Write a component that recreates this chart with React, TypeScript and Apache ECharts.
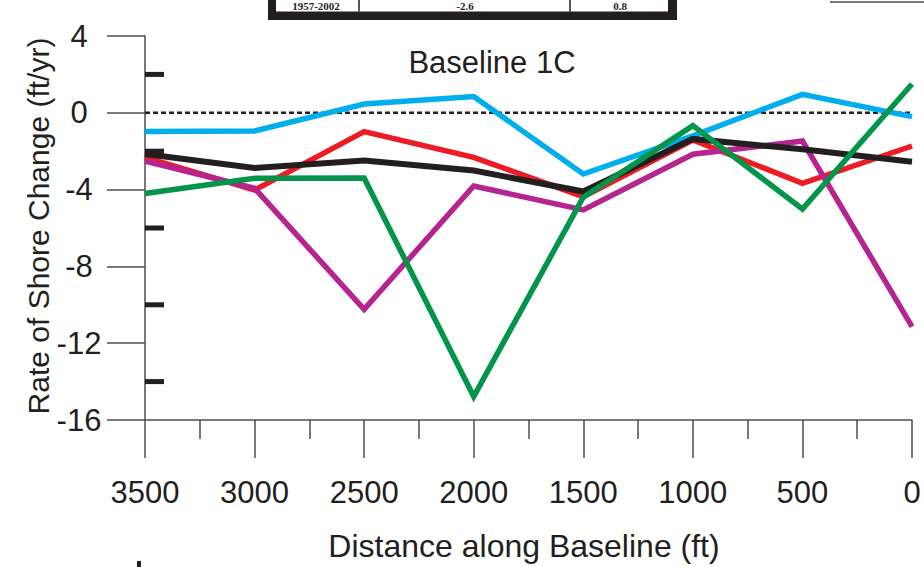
import React, { useEffect, useRef } from "react";
import * as echarts from "echarts";

const distances = [3500, 3000, 2500, 2000, 1500, 1000, 500, 0];
const cyanRates = [-0.98, -0.95, 0.46, 0.85, -3.19, -1.2, 0.96, -0.2];
const redRates = [-2.32, -4.02, -0.98, -2.32, -4.37, -1.42, -3.67, -1.73];
const magentaRates = [-2.51, -3.93, -10.24, -3.81, -5.06, -2.16, -1.47, -11.14];
const blackRates = [-2.15, -2.87, -2.49, -3.01, -4.1, -1.36, -1.9, -2.55];
const greenRates = [-4.2, -3.41, -3.4, -14.78, -4.4, -0.67, -5.01, 1.5];
const halfTicks = [2, -2, -6, -10, -14];
const tableCells = ["1957-2002", "-2.6", "0.8"];

const FONT = "Liberation Sans, Arial, Helvetica, sans-serif";
const SERIF = "Liberation Serif, Times New Roman, serif";

function pairs(vals: number[]) {
  return distances.map((d, i) => [d, vals[i]]);
}

export default function App() {
  const ref = useRef<HTMLDivElement>(null);
  useEffect(() => {
    if (!ref.current) return;
    const chart = echarts.init(ref.current, null, { renderer: "svg" });
    const axisColor = "#4d4d4d";
    const mkLine = (name: string, vals: number[], color: string, z: number, width: number) => ({
      name,
      type: "line",
      data: pairs(vals),
      symbol: "none",
      z,
      lineStyle: { color, width, join: "miter" },
    });
    const cellText = (i: number, x: number) => ({
      type: "text",
      x,
      y: 11,
      style: { text: tableCells[i], fontSize: 11, fontWeight: "bold", fontFamily: SERIF, fill: "#231f20", align: "center", verticalAlign: "bottom" },
    });
    chart.setOption({
      animation: false,
      backgroundColor: "#ffffff",
      grid: { left: 145, right: 12, top: 36, bottom: 147 },
      xAxis: {
        type: "value",
        inverse: true,
        min: 0,
        max: 3500,
        interval: 500,
        axisLine: { onZero: false, lineStyle: { color: axisColor, width: 1.5 } },
        axisTick: { length: 38, lineStyle: { color: axisColor, width: 1.5 } },
        minorTick: { show: true, splitNumber: 2, length: 19, lineStyle: { color: axisColor, width: 1.5 } },
        splitLine: { show: false },
        axisLabel: {
          fontSize: 31,
          color: "#231f20",
          fontFamily: FONT,
          margin: 57,
          formatter: (v: number) => String(v),
        },
      },
      yAxis: {
        type: "value",
        position: "left",
        min: -16,
        max: 4,
        interval: 4,
        axisLine: { show: true, onZero: false, lineStyle: { color: axisColor, width: 1.5 } },
        axisTick: { show: true, length: 38, lineStyle: { color: axisColor, width: 1.5 } },
        splitLine: { show: false },
        axisLabel: { fontSize: 31, color: "#231f20", fontFamily: FONT, margin: 66, align: "center" },
      },
      series: [
        {
          name: "halfTicks",
          type: "scatter",
          data: halfTicks.map((v) => [3500, v]),
          symbol: "rect",
          symbolSize: [19, 5],
          symbolOffset: [9.5, 0],
          itemStyle: { color: "#231f20", opacity: 1 },
          emphasis: { disabled: true },
          silent: true,
          z: 1,
        },
        {
          name: "zero",
          type: "line",
          data: [[3500, 0], [0, 0]],
          symbol: "none",
          z: 1,
          lineStyle: { color: "#231f20", width: 2.5, type: [5, 3] },
        },
        mkLine("cyan", cyanRates, "#00aeef", 2, 5.5),
        mkLine("red", redRates, "#ed1c24", 3, 5.5),
        mkLine("magenta", magentaRates, "#b5248f", 4, 5.5),
        mkLine("black", blackRates, "#231f20", 5, 6),
        mkLine("green", greenRates, "#00954a", 6, 5.5),
      ],
      graphic: [
        {
          type: "text",
          x: 492,
          y: 62,
          style: { text: "Baseline 1C", fontSize: 31, fontFamily: FONT, fill: "#231f20", align: "center", verticalAlign: "middle" },
        },
        {
          type: "text",
          x: 524,
          y: 546,
          style: { text: "Distance along Baseline (ft)", fontSize: 32, fontFamily: FONT, fill: "#231f20", align: "center", verticalAlign: "middle" },
        },
        {
          type: "text",
          x: 38,
          y: 226,
          rotation: Math.PI / 2,
          style: { text: "Rate of Shore Change (ft/yr)", fontSize: 30, fontFamily: FONT, fill: "#231f20", align: "center", verticalAlign: "middle" },
        },
        { type: "rect", shape: { x: 268, y: -2, width: 409, height: 22 }, style: { fill: "#231f20" } },
        { type: "rect", shape: { x: 276, y: -2, width: 392, height: 13.5 }, style: { fill: "#ffffff" } },
        { type: "line", shape: { x1: 359, y1: 0, x2: 359, y2: 11.5 }, style: { stroke: "#231f20", lineWidth: 1.5 } },
        { type: "line", shape: { x1: 570, y1: 0, x2: 570, y2: 11.5 }, style: { stroke: "#231f20", lineWidth: 1.5 } },
        cellText(0, 316),
        cellText(1, 465),
        cellText(2, 620),
        { type: "line", shape: { x1: 830, y1: 2, x2: 924, y2: 2 }, style: { stroke: "#4d4d4d", lineWidth: 1.5 } },
        { type: "rect", shape: { x: 137, y: 561, width: 4, height: 6 }, style: { fill: "#231f20" } },
      ],
    });
    return () => chart.dispose();
  }, []);
  return (
    <div
      ref={ref}
      style={{ position: "fixed", left: 0, top: 0, width: 924, height: 567, background: "#fff" }}
    />
  );
}
